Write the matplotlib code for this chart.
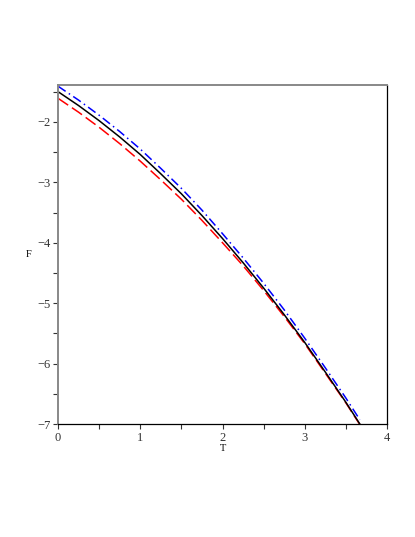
import numpy as np
import matplotlib
matplotlib.use("Agg")
import matplotlib.pyplot as plt
from matplotlib.ticker import MultipleLocator

# values
T = [0.0, 0.25, 0.5, 0.75, 1.0, 1.25, 1.5, 1.75, 2.0, 2.25, 2.5, 2.75, 3.0, 3.25, 3.5, 3.67]
F_black = [-1.50, -1.73, -1.98, -2.25, -2.54, -2.86, -3.19, -3.55, -3.93, -4.33, -4.75, -5.19, -5.65, -6.14, -6.64, -7.00]
F_red = [-1.61, -1.84, -2.09, -2.36, -2.65, -2.96, -3.28, -3.63, -4.00, -4.38, -4.79, -5.22, -5.67, -6.16, -6.65, -7.01]
F_blue = [-1.41, -1.64, -1.89, -2.16, -2.45, -2.77, -3.10, -3.46, -3.85, -4.25, -4.67, -5.11, -5.58, -6.07, -6.57, -6.93]

plt.rcParams['font.family'] = ['Liberation Serif', 'DejaVu Serif']

fig = plt.figure(figsize=(4.15, 5.37), dpi=100)
ax = fig.add_axes([0.1398, 0.2104, 0.7927, 0.6313])

ax.plot(T, F_red, color='red', lw=1.1, dashes=(8, 3))
ax.plot(T, F_blue, color='blue', lw=1.1, dashes=(6, 2.5, 1, 2.5))
ax.plot(T, F_black, color='black', lw=1.1)

ax.set_xlim(0, 4)
ax.set_ylim(-7, -1.39)
ax.xaxis.set_major_locator(MultipleLocator(1))
ax.xaxis.set_minor_locator(MultipleLocator(0.5))
ax.yaxis.set_major_locator(MultipleLocator(1))
ax.yaxis.set_minor_locator(MultipleLocator(0.5))
ax.tick_params(which='both', direction='out', length=3.5, width=0.8, labelsize=9, pad=2, colors='#333333')

for side in ['top', 'left']:
    ax.spines[side].set_color('#888888')
    ax.spines[side].set_linewidth(1.4)
for side in ['bottom', 'right']:
    ax.spines[side].set_color('black')
    ax.spines[side].set_linewidth(0.9)

ax.set_xlabel('T', fontsize=7.5, labelpad=0)
ax.set_ylabel('F', fontsize=7.5, rotation=0, va='center')
ax.yaxis.set_label_coords(-0.09, 0.5)

fig.savefig('out.png', dpi=100)
